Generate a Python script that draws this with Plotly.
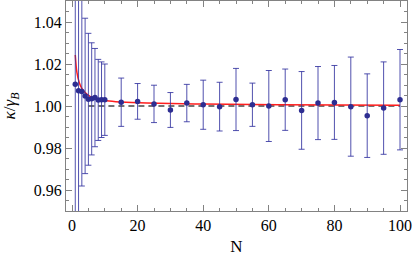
import plotly.graph_objects as go

# Data
N_vals = [1, 2, 3, 4, 5, 6, 7, 8, 9, 10, 15, 20, 25, 30, 35, 40, 45, 50, 55, 60,
          65, 70, 75, 80, 85, 90, 95, 100]
kappa = [1.0103, 1.0073, 1.0069, 1.0048, 1.0032, 1.0034, 1.0040, 1.0029, 1.0030, 1.0030,
         1.0018, 1.0022, 1.0010, 0.9981, 1.0014, 1.0006, 0.9997, 1.0031, 1.0006, 1.0000,
         1.0030, 0.9979, 1.0014, 1.0017, 0.9997, 0.9954, 0.9990, 1.0030]
err = [0.080, 0.065, 0.045, 0.037, 0.0314, 0.0267, 0.0234, 0.0193, 0.0180, 0.0170,
       0.0115, 0.0085, 0.0089, 0.0083, 0.0089, 0.0117, 0.0116, 0.0148, 0.0103, 0.0169,
       0.0146, 0.0185, 0.0174, 0.0176, 0.0236, 0.0199, 0.0220, 0.0239]

# Fitted curve (red)
fit_N = [1, 1.5, 2.2, 3, 4.5, 6.5, 10.6, 15, 22.8, 40, 63, 100]
fit_y = [1.0243, 1.0160, 1.0112, 1.0084, 1.0057, 1.0038, 1.0025, 1.0019, 1.0014, 1.0009, 1.0006, 1.0004]

# Reference level (dashed)
ref_N = [5, 100]
ref_y = [1.0, 1.0]

y_ticks = [0.96, 0.98, 1.00, 1.02, 1.04]
y_ticktext = ["0.96", "0.98", "1.00", "1.02", "1.04"]
x_ticks = [0, 20, 40, 60, 80, 100]

SERIF = "Liberation Serif, Times New Roman, DejaVu Serif, serif"

fig = go.Figure()

fig.add_trace(go.Scatter(
    x=ref_N, y=ref_y, mode="lines",
    line=dict(color="rgb(70,70,70)", width=1.5, dash="6px,4px"),
    hoverinfo="skip", showlegend=False))

fig.add_trace(go.Scatter(
    x=fit_N, y=fit_y, mode="lines", line_shape="spline",
    line=dict(color="rgb(255,30,30)", width=1.5),
    showlegend=False))

fig.add_trace(go.Scatter(
    x=N_vals, y=kappa, mode="markers",
    marker=dict(color="rgb(45,45,145)", size=5.5),
    error_y=dict(type="data", array=err, visible=True,
                 color="rgba(50,50,160,0.85)", thickness=1, width=3),
    showlegend=False))

axis_common = dict(
    showline=True, linecolor="rgb(130,130,130)", linewidth=1, mirror="ticks",
    ticks="inside", ticklen=6, tickcolor="rgb(130,130,130)", tickwidth=1,
    showgrid=False, zeroline=False,
    tickfont=dict(family=SERIF, size=16, color="black"),
)

fig.update_xaxes(
    **axis_common, range=[-1.83, 102.13], tickvals=x_ticks,
    minor=dict(dtick=5, tick0=0, ticks="inside", ticklen=3, tickcolor="rgb(130,130,130)"),
    title=dict(text="N", font=dict(family=SERIF, size=17, color="black"), standoff=6),
)
fig.update_yaxes(
    **axis_common, range=[0.95, 1.05], tickvals=y_ticks, ticktext=y_ticktext,
    minor=dict(dtick=0.005, tick0=0.95, ticks="inside", ticklen=3, tickcolor="rgb(130,130,130)"),
    title=dict(text="<i>κ</i>/<i>γ</i><sub><i>B</i></sub>",
               font=dict(family=SERIF, size=17, color="black"), standoff=13),
)

fig.update_layout(
    width=415, height=263,
    margin=dict(l=66, r=8, t=1, b=52),
    plot_bgcolor="white", paper_bgcolor="white",
    font=dict(family=SERIF, color="black"),
)

fig.write_html("out.html", config={"displayModeBar": False},
               post_script="document.body.style.margin='0';document.body.style.padding='0';")
